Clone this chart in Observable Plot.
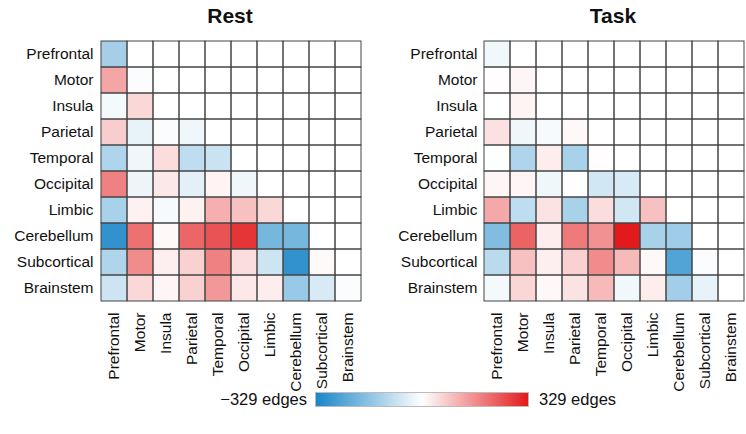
<!DOCTYPE html>
<html>
<head>
<meta charset="utf-8">
<script src="https://cdn.jsdelivr.net/npm/d3@7"></script>
<script src="https://cdn.jsdelivr.net/npm/@observablehq/plot@0.6"></script>
<style>
  html, body { margin: 0; padding: 0; background: #fff; }
  #root { position: relative; width: 746px; height: 434px; overflow: hidden; font-family: "Liberation Sans", Arial, sans-serif; color: #111; }
  .title { position: absolute; top: 4px; font-size: 21px; font-weight: bold; text-align: center; width: 200px; }
  .plot { position: absolute; top: 0; }
  .leg { position: absolute; font-size: 16.5px; top: 389px; line-height: 20px; }
  #bar { position: absolute; left: 315px; top: 392px; width: 212px; height: 13px; border: 1px solid #bbb; }
</style>
</head>
<body>
<div id="root"></div>
<script>
const regions = ["Prefrontal","Motor","Insula","Parietal","Temporal","Occipital","Limbic","Cerebellum","Subcortical","Brainstem"];
const maxEdges = 329;
const colorStops = ["#1a86c8", "#ffffff", "#e31a1c"];

// Lower-triangular matrices (row i has values for columns 0..i), in edges
const restRows = [
  [-130],
  [130, -7],
  [-16, 56, 0],
  [72, -33, -7, -23],
  [-115, -23, 49, -92, -76],
  [181, -26, 33, -40, 16, -23],
  [-125, 20, -13, 20, 115, 89, 56],
  [-296, 204, 10, 220, 247, 290, -197, -197],
  [-115, 165, 23, 66, 181, 49, -72, -296, 7],
  [-72, 56, 13, 66, 148, 33, 26, -148, -56, -7]
];
const taskRows = [
  [-20],
  [3, 13],
  [0, 16, 0],
  [43, -23, -13, 10],
  [-3, -115, 26, -125, 3],
  [13, 13, -23, 0, -66, -56],
  [125, -92, 40, -125, 49, -66, 89],
  [-181, 224, 26, 191, 158, 329, -125, -138],
  [-99, 89, 23, 66, 165, 99, 10, -247, -7],
  [-16, 59, 10, 40, 99, -20, 26, -132, -33, 0]
];

function toCells(rows) {
  const out = [];
  rows.forEach((r, i) => r.forEach((v, j) => out.push({row: regions[i], col: regions[j], value: v})));
  return out;
}
const allCells = regions.flatMap(r => regions.map(c => ({row: r, col: c})));

function makePlot(rows, marginLeft, marginRight) {
  const svg = Plot.plot({
    width: 373,
    height: 434,
    marginTop: 38,
    marginBottom: 131,
    marginLeft,
    marginRight,
    style: {fontSize: "15.5px", fontFamily: "'Liberation Sans', Arial, sans-serif", color: "#111", background: "transparent"},
    x: {domain: regions, padding: 0, tickRotate: -90, tickSize: 0, tickPadding: 9, label: null},
    y: {domain: regions, padding: 0, tickSize: 0, tickPadding: 5, label: null},
    color: {type: "linear", domain: [-maxEdges, 0, maxEdges], range: colorStops, interpolate: "rgb"},
    marks: [
      Plot.cell(toCells(rows), {x: "col", y: "row", fill: "value", inset: 0}),
      Plot.cell(allCells, {x: "col", y: "row", fill: "none", stroke: "#444", strokeWidth: 1, inset: 0})
    ]
  });
  svg.querySelectorAll("text").forEach(t => {
    if ((t.getAttribute("transform") || "").includes("rotate")) t.style.fontSize = "15.5px";
  });
  return svg;
}

const root = document.getElementById("root");
const p1 = makePlot(restRows, 98, 10);
p1.classList.add("plot"); p1.style.left = "0px";
const p2 = makePlot(taskRows, 109, 1);
p2.classList.add("plot"); p2.style.left = "373px";
root.appendChild(p1); root.appendChild(p2);

function addDiv(cls, text, css) {
  const d = document.createElement("div");
  d.className = cls; d.textContent = text;
  Object.assign(d.style, css);
  root.appendChild(d);
  return d;
}
addDiv("title", "Rest", {left: (230 - 100) + "px"});
addDiv("title", "Task", {left: (613 - 100) + "px"});
addDiv("leg", "\u2212" + maxEdges + " edges", {right: (746 - 307) + "px", textAlign: "right"});
addDiv("leg", maxEdges + " edges", {left: "539px"});
const bar = document.createElement("div");
bar.id = "bar";
bar.style.background = `linear-gradient(to right, ${colorStops[0]}, ${colorStops[1]}, ${colorStops[2]})`;
root.appendChild(bar);
</script>
</body>
</html>
